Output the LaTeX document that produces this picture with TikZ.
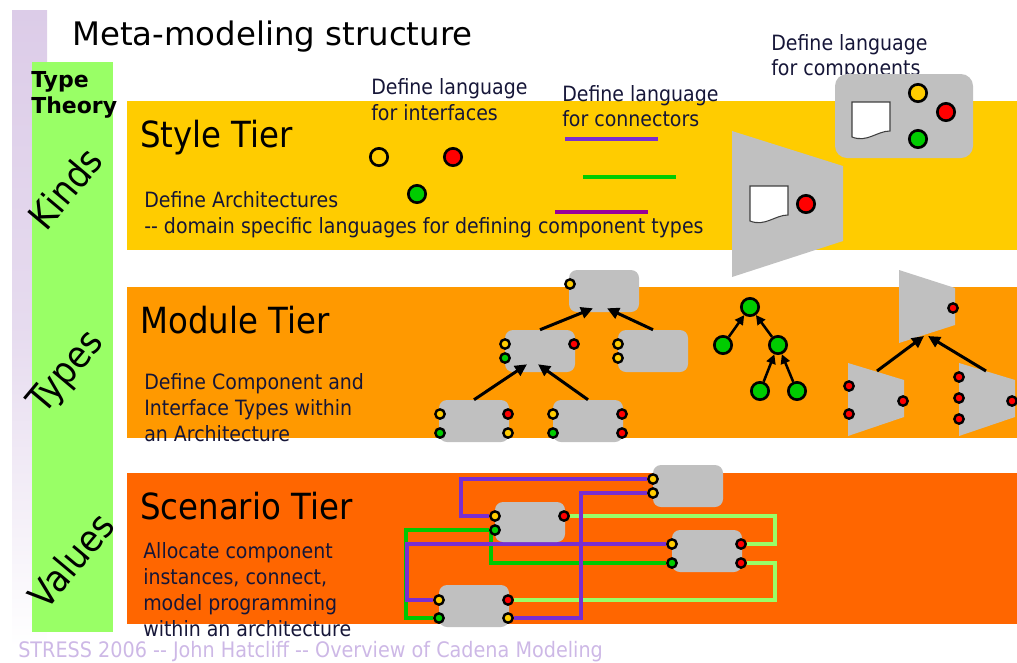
\documentclass[tikz,border=0pt]{standalone}
\usepackage{fontspec}
\setmainfont{DejaVu Sans}[FakeStretch=0.9]
\newfontfamily\titlefont{DejaVu Sans}
\usetikzlibrary{arrows.meta}

\definecolor{styleband}{HTML}{FFCC00}
\definecolor{moduleband}{HTML}{FF9900}
\definecolor{scenband}{HTML}{FF6600}
\definecolor{theorybar}{HTML}{99FF66}
\definecolor{boxgrey}{HTML}{C0C0C0}
\definecolor{lilac}{HTML}{DCCCE8}
\definecolor{footlilac}{HTML}{CDB8E6}
\definecolor{inkblue}{HTML}{161638}
\definecolor{portyellow}{HTML}{FFCC00}
\definecolor{portred}{HTML}{FF0000}
\definecolor{portgreen}{HTML}{00CC00}
\definecolor{wirepurple}{HTML}{7A2ED0}
\definecolor{wiregreen}{HTML}{00C800}
\definecolor{wirelight}{HTML}{99FF66}
\definecolor{typepurple}{HTML}{990099}

\newcommand\tierbody{\fontsize{15.8pt}{18pt}\selectfont}
\newcommand\tierhead{\fontsize{27pt}{32pt}\selectfont}

\pgfdeclarelayer{bg}
\pgfdeclarelayer{wires}
\pgfsetlayers{bg,wires,main}

\begin{document}
\begin{tikzpicture}[x=0.75pt,y=-0.75pt,
  gbox/.style={fill=boxgrey, rounded corners=6pt, minimum width=52.5pt, minimum height=31.5pt, inner sep=0pt},
  portdot/.style={circle, draw=black, line width=1.8pt, fill=#1, minimum size=7pt, inner sep=0pt},
  bigdot/.style={circle, draw=black, line width=2pt, fill=#1, minimum size=13pt, inner sep=0pt},
  tarr/.style={line width=2.25pt, -{Triangle[length=9pt,width=8.5pt]}},
  garr/.style={line width=1.9pt, -{Triangle[length=7pt,width=7pt]}},
  conn/.style={line width=3pt},
  wire/.style={line width=3pt},
  txt/.style={anchor=base west, inner sep=0pt, text=inkblue, font=\tierbody},
  head/.style={anchor=base west, inner sep=0pt, text=black, font=\tierhead},
  level/.style={anchor=center, inner sep=0pt, rotate=50, font=\fontsize{28pt}{32pt}\selectfont},
  docicon/.pic={
    \draw[fill=white, draw=black!75, line width=0.8pt]
      (0,0) -- (38,0) -- (38,29) .. controls (25,29) and (15,41) .. (0,35) -- cycle;
  }]
\useasboundingbox (0,0) rectangle (1017,662);

% backgrounds: side strip, type-theory column and the three tiers
\begin{pgfonlayer}{bg}
  \shade[top color=lilac, bottom color=white, middle color=lilac!70] (12,10) rectangle (47,648);
  \fill[theorybar] (32,62) rectangle (113,632);
  \fill[styleband] (127,101) rectangle (1017,250);
  \fill[moduleband] (127,287) rectangle (1017,438);
  \fill[scenband] (127,473) rectangle (1017,624);
\end{pgfonlayer}

% title and left column
\node[anchor=base west, inner sep=0pt, font=\titlefont\fontsize{24.3pt}{28pt}\selectfont] (title) at (72,45) {Meta-modeling structure};
\node[anchor=base west, inner sep=0pt, font=\titlefont\bfseries\fontsize{16.5pt}{19pt}\selectfont] (tt1) at (31,87) {Type};
\node[anchor=base west, inner sep=0pt, font=\titlefont\bfseries\fontsize{16.5pt}{19pt}\selectfont] (tt2) at (31,113) {Theory};
\node[level] (kinds) at (65,188) {Kinds};
\node[level] (types) at (67,373) {Types};
\node[level] (values) at (71,560) {Values};

% ---------------- Style tier ----------------
\node[head] (styleH) at (140,147) {Style Tier};
\node[txt] (styleT1) at (144,207) {Define Architectures};
\node[txt] (styleT2) at (144,233) {-{}- domain specific languages for defining component types};

\node[txt] (ifL1) at (371,94) {Define language};
\node[txt] (ifL2) at (371,120) {for interfaces};
\node[txt] (cnL1) at (562,101) {Define language};
\node[txt] (cnL2) at (562,126) {for connectors};
\node[txt] (cpL1) at (771,50) {Define language};
\node[txt] (cpL2) at (771,75) {for components};

\node[bigdot=styleband] (ifY) at (379,157) {};
\node[bigdot=portred] (ifR) at (453,157) {};
\node[bigdot=portgreen] (ifG) at (417,194) {};

\coordinate (cnA1) at (565,139); \coordinate (cnA2) at (658,139);
\coordinate (cnB1) at (583,177); \coordinate (cnB2) at (676,177);
\coordinate (cnC1) at (555,212); \coordinate (cnC2) at (648,212);
\draw[conn, wirepurple] (cnA1) -- (cnA2);
\draw[conn, portgreen] (cnB1) -- (cnB2);
\draw[conn, typepurple] (cnC1) -- (cnC2);

\fill[boxgrey] (732,131) -- (843,166) -- (843,241) -- (732,277) -- cycle;
\pic at (750,186) {docicon};
\node[bigdot=portred] (ctR) at (806,204) {};

\node[fill=boxgrey, rounded corners=9pt, minimum width=103.5pt, minimum height=63pt, inner sep=0pt] (compBox) at (904,116) {};
\pic at (852,102) {docicon};
\node[bigdot=portyellow] (cpY) at (918,93) {};
\node[bigdot=portred] (cpR) at (946,112) {};
\node[bigdot=portgreen] (cpG) at (918,139) {};

% ---------------- Module tier ----------------
\node[head] (modH) at (140,333) {Module Tier};
\node[txt] (modT1) at (144,389) {Define Component and};
\node[txt] (modT2) at (144,415) {Interface Types within};
\node[txt] (modT3) at (144,441) {an Architecture};

\node[gbox] (mTop) at (604,291) {};
\node[gbox] (mMidL) at (540,351) {};
\node[gbox] (mMidR) at (653,351) {};
\node[gbox] (mBotL) at (474,421) {};
\node[gbox] (mBotR) at (588,421) {};

\node[portdot=portyellow] (mTopP1) at (570,284) {};
\node[portdot=portyellow] (mMidLP1) at (505,344) {};
\node[portdot=portgreen] (mMidLP2) at (505,358) {};
\node[portdot=portred] (mMidLP3) at (574,344) {};
\node[portdot=portyellow] (mMidRP1) at (618,344) {};
\node[portdot=portyellow] (mMidRP2) at (618,358) {};
\node[portdot=portyellow] (mBotLP1) at (440,414) {};
\node[portdot=portgreen] (mBotLP2) at (440,433) {};
\node[portdot=portred] (mBotLP3) at (508,414) {};
\node[portdot=portyellow] (mBotLP4) at (508,433) {};
\node[portdot=portyellow] (mBotRP1) at (553,414) {};
\node[portdot=portgreen] (mBotRP2) at (553,433) {};
\node[portdot=portred] (mBotRP3) at (622,414) {};
\node[portdot=portred] (mBotRP4) at (622,433) {};

\draw[tarr] (mMidL.north) -- ([xshift=-8.25pt,yshift=3pt]mTop.south);
\draw[tarr] (mMidR.north) -- ([xshift=2.25pt,yshift=3pt]mTop.south);
\draw[tarr] (mBotL.north) -- ([xshift=-9.75pt,yshift=6pt]mMidL.south);
\draw[tarr] (mBotR.north) -- ([xshift=-1.5pt,yshift=6pt]mMidL.south);

% interface hierarchy
\node[bigdot=portgreen] (g0) at (750,307) {};
\node[bigdot=portgreen] (g1) at (723,345) {};
\node[bigdot=portgreen] (g2) at (778,345) {};
\node[bigdot=portgreen] (g3) at (760,391) {};
\node[bigdot=portgreen] (g4) at (797,391) {};
\draw[garr] (g1) -- (g0);
\draw[garr] (g2) -- (g0);
\draw[garr] (g3) -- (g2);
\draw[garr] (g4) -- (g2);

% connector-type hierarchy
\fill[boxgrey] (899,270) -- (955,288) -- (955,325) -- (899,343) -- cycle;
\fill[boxgrey] (848,363) -- (904,380) -- (904,417) -- (848,436) -- cycle;
\fill[boxgrey] (959,363) -- (1015,380) -- (1015,417) -- (959,436) -- cycle;
\node[portdot=portred] (tzTopP) at (953,308) {};
\node[portdot=portred] (tzLP1) at (849,386) {};
\node[portdot=portred] (tzLP2) at (849,414) {};
\node[portdot=portred] (tzLP3) at (903,401) {};
\node[portdot=portred] (tzRP1) at (959,377) {};
\node[portdot=portred] (tzRP2) at (959,398) {};
\node[portdot=portred] (tzRP3) at (959,419) {};
\node[portdot=portred] (tzRP4) at (1012,401) {};
\coordinate (tzLA) at (877,371);
\coordinate (tzRA) at (986,371);
\coordinate (tzTopS1) at (924,336);
\coordinate (tzTopS2) at (928,336);
\draw[tarr] (tzLA) -- (tzTopS1);
\draw[tarr] (tzRA) -- (tzTopS2);

% ---------------- Scenario tier ----------------
\node[head] (scnH) at (140,519) {Scenario Tier};
\node[txt] (scnT1) at (143,558) {Allocate component};
\node[txt] (scnT2) at (143,584) {instances, connect,};
\node[txt] (scnT3) at (143,610) {model programming};
\node[txt] (scnT4) at (143,636) {within an architecture};

\node[gbox] (sTop) at (688,486) {};
\node[gbox, minimum height=30pt] (sA) at (530,522) {};
\node[gbox] (sB) at (707,551) {};
\node[gbox] (sC) at (474,606) {};

\node[portdot=portyellow] (sTopP1) at (653,479) {};
\node[portdot=portyellow] (sTopP2) at (653,493) {};
\node[portdot=portyellow] (sAP1) at (495,516) {};
\node[portdot=portgreen] (sAP2) at (495,530) {};
\node[portdot=portred] (sAP3) at (564,516) {};
\node[portdot=portyellow] (sBP1) at (672,544) {};
\node[portdot=portgreen] (sBP2) at (672,563) {};
\node[portdot=portred] (sBP3) at (741,544) {};
\node[portdot=portred] (sBP4) at (741,563) {};
\node[portdot=portyellow] (sCP1) at (439,600) {};
\node[portdot=portgreen] (sCP2) at (439,618) {};
\node[portdot=portred] (sCP3) at (508,600) {};
\node[portdot=portyellow] (sCP4) at (508,618) {};

% wiring bend points
\coordinate (k1) at (461,516);
\coordinate (k2) at (581,618);
\coordinate (k3) at (407,600);
\coordinate (k4) at (406,618);
\coordinate (k6) at (775,544);
\coordinate (k7) at (775,600);

\begin{pgfonlayer}{wires}
  \draw[wire, wirelight] (sAP3) -| (k6) -- (sBP3);
  \draw[wire, wirelight] (sBP4) -| (k7) -- (sCP3);
  \draw[wire, wiregreen] (sAP2) -| (k4) -- (sCP2);
  \draw[wire, wiregreen] ([xshift=-3pt]sAP2.center) |- (sBP2);
  \draw[wire, wirepurple] (sTopP1) -| (k1) -- (sAP1);
  \draw[wire, wirepurple] (sTopP2) -| (k2) -- (sCP4);
  \draw[wire, wirepurple] (sBP1) -| (k3) -- (sCP1);
\end{pgfonlayer}

% footer
\node[anchor=base west, inner sep=0pt, text=footlilac, font=\fontsize{16pt}{19pt}\selectfont] (footer) at (18,657) {STRESS 2006 -{}- John Hatcliff -{}- Overview of Cadena Modeling};
\end{tikzpicture}
\end{document}
